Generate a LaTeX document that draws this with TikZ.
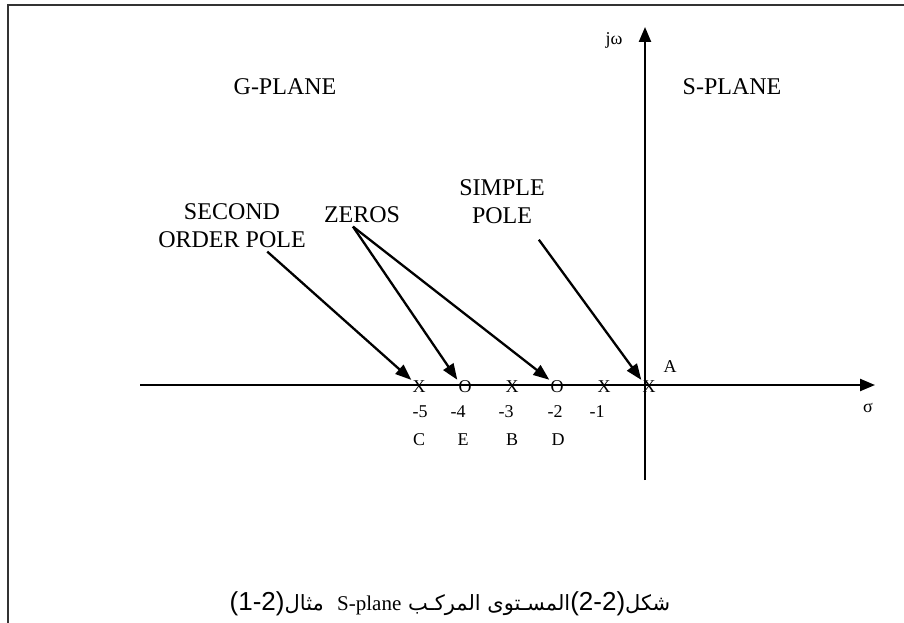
\documentclass[tikz,border=0pt]{standalone}
\usepackage{fontspec}
\setmainfont{Liberation Serif}
\newfontfamily\arabicfont[Script=Arabic]{DejaVu Sans}
\newfontfamily\numfont{Liberation Sans}
\TeXXeTstate=1
\usetikzlibrary{arrows.meta}

\begin{document}
\begin{tikzpicture}[x=1pt,y=-1pt,
big/.style={font=\fontsize{24}{28}\selectfont,align=center},
small/.style={font=\fontsize{18}{22}\selectfont,inner sep=1pt},
axisline/.style={line width=2.3pt,-{Triangle[length=15pt,width=12pt]}},
arrow/.style={line width=2.3pt,-{Triangle[length=16pt,width=12pt]}},
frame/.style={line width=2pt,draw=black!80}]
\useasboundingbox (0,0) rectangle (904,623);
\draw[frame] (7.5,623) -- (7.5,5.5) -- (904,5.5);
\coordinate (xl) at (140,385);
\coordinate (xr) at (875,385);
\coordinate (yb) at (645,480);
\coordinate (yt) at (645,27);
\draw[axisline] (xl) -- (xr);
\draw[axisline] (yb) -- (yt);
\node[small] (jw) at (614,40) {jω};
\node[small] (sig) at (868,408) {σ};
\node[big] (gp) at (285,87) {G-PLANE};
\node[big] (spl) at (732,87) {S-PLANE};
\node[big] (sop) at (232,226) {SECOND\\ORDER POLE};
\node[big] (zr) at (362,215) {ZEROS};
\node[big] (sp) at (502,202) {SIMPLE\\POLE};
\node[small] (c5) at (419,387) {X};
\node[small] (e4) at (465,387) {O};
\node[small] (b3) at (512,387) {X};
\node[small] (d2) at (557,387) {O};
\node[small] (x1) at (604,387) {X};
\node[small] (a0) at (649,387) {X};
\node[small] (n5) at (420,412) {-5};
\node[small] (n4) at (458,412) {-4};
\node[small] (n3) at (506,412) {-3};
\node[small] (n2) at (555,412) {-2};
\node[small] (n1) at (597,412) {-1};
\node[small] (lc) at (419,440) {C};
\node[small] (le) at (463,440) {E};
\node[small] (lb) at (512,440) {B};
\node[small] (ld) at (558,440) {D};
\node[small] (la) at (670,367) {A};
\draw[arrow] (sop.-36) -- (c5.north west);
\draw[arrow] (zr.-128) -- (e4.north west);
\draw[arrow] (zr.-128) -- (d2.north west);
\draw[arrow,shorten <=15pt] ([xshift=28pt]sp.south) -- (a0.north west);
\node[font=\fontsize{21}{26}\selectfont] (cap) at (450,604)
  {\beginR\arabicfont شكل\hbox{\numfont\fontsize{26}{28}\selectfont(2-2)}المسـتوى المركـب \hbox{\rmfamily\fontsize{21}{26}\selectfont S-plane}\ \ مثال\hbox{\numfont\fontsize{26}{28}\selectfont(1-2)}\endR};
\end{tikzpicture}
\end{document}
